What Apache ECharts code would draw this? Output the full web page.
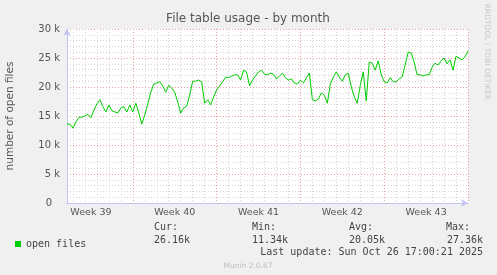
<!DOCTYPE html>
<html><head><meta charset="utf-8">
<script src="https://cdn.jsdelivr.net/npm/echarts@6.0.0/dist/echarts.min.js"></script>
<style>html,body{margin:0;padding:0;background:#f0f0f0;}#c{width:497px;height:275px;}</style>
</head><body><div id="c"></div>
<script>
// ---- data ----
const chartTitle = 'File table usage - by month';
const yAxisTitle = 'number of open files';
const seriesName = 'open files';
const startTime = Date.UTC(2025, 8, 23, 12, 0, 0); // first sample
const stepHours = 6;
const openFiles = [
  13600, 13600, 12900, 14000, 14800, 14800, 15000, 15300, 14700, 16000,
  17100, 17800, 16600, 15700, 16900, 15900, 15700, 15500, 16400, 16600,
  15700, 16900, 15700, 17200, 15500, 13600, 15200, 17100, 19100, 20500,
  20700, 20900, 20200, 19100, 20300, 19800, 19100, 17400, 15500, 16400,
  16700, 18600, 21000, 21000, 21200, 20900, 17200, 17800, 16900, 18300,
  19500, 20200, 20900, 21700, 21600, 21900, 22100, 22100, 21200, 22900,
  22600, 20200, 21200, 21900, 22600, 22900, 22200, 22100, 22400, 22200,
  21400, 21900, 22400, 21600, 21200, 21400, 20700, 20500, 21200, 20700,
  21600, 22400, 17800, 17600, 17900, 19000, 18600, 17200, 20500, 21700,
  22600, 21700, 21000, 22100, 22400, 20000, 18300, 17200, 20300, 22600,
  17600, 24300, 24100, 22900, 24500, 22100, 20900, 20700, 21600, 20900,
  20900, 21400, 21700, 23800, 26000, 25900, 24300, 22100, 22100, 21900,
  22100, 22100, 23400, 24100, 23800, 24500, 25000, 24000, 24700, 22900,
  25300, 25000, 24700, 25200, 26200
];
const yTicks = [0, 5000, 10000, 15000, 20000, 25000, 30000];
const weekLabels = ['Week 39', 'Week 40', 'Week 41', 'Week 42', 'Week 43'];
const statNames = ['Cur:', 'Min:', 'Avg:', 'Max:'];
const statValues = ['26.16k', '11.34k', '20.05k', '27.36k'];
const lastUpdate = 'Last update: Sun Oct 26 17:00:21 2025';
const footer = 'Munin 2.0.67';
const sideText = 'RRDTOOL / TOBI OETIKER';

// ---- build ----
const stepMs = stepHours * 3600 * 1000;
const times = openFiles.map((_, i) => startTime + i * stepMs);
const categories = times.map(t => new Date(t).toISOString());
function isMidnight(i) { return new Date(times[i]).getUTCHours() === 0; }
function isMonday(i) { const d = new Date(times[i]); return d.getUTCHours() === 0 && d.getUTCDay() === 1; }
function isMidWeek(i) { const d = new Date(times[i]); return d.getUTCHours() === 12 && d.getUTCDay() === 4; }
const midWeekIdx = times.map((_, i) => i).filter(isMidWeek);

const mono = '"DejaVu Sans Mono", monospace';
const sans = '"DejaVu Sans", sans-serif';
const statX = [154, 252, 349, 483];
const graphics = [
  { type: 'text', x: 248, y: 19, style: { text: chartTitle, font: '12px ' + sans, fill: '#555', align: 'center', verticalAlign: 'middle' } },
  { type: 'text', x: 10, y: 116, rotation: Math.PI / 2, style: { text: yAxisTitle, font: '10.5px ' + sans, fill: '#555', align: 'center', verticalAlign: 'middle' } },
  { type: 'text', x: 487, y: 52, rotation: -Math.PI / 2, style: { text: sideText, font: '7.5px ' + sans, fill: '#c8c8c8', align: 'center', verticalAlign: 'middle' } },
  { type: 'text', x: 483, y: 252, style: { text: lastUpdate, font: '10px ' + mono, fill: '#444', align: 'right', verticalAlign: 'middle' } },
  { type: 'text', x: 248, y: 266, style: { text: footer, font: '7.5px ' + sans, fill: '#c0c0c0', align: 'center', verticalAlign: 'middle' } }
];
statNames.forEach((n, k) => {
  const last = k === statNames.length - 1;
  graphics.push({ type: 'text', x: last ? 470 : statX[k], y: 227, style: { text: n, font: '10px ' + mono, fill: '#444', align: last ? 'right' : 'left', verticalAlign: 'middle' } });
  graphics.push({ type: 'text', x: statX[k], y: 240, style: { text: statValues[k], font: '10px ' + mono, fill: '#444', align: last ? 'right' : 'left', verticalAlign: 'middle' } });
});

const chart = echarts.init(document.getElementById('c'), null, { renderer: 'canvas' });
chart.setOption({
  animation: false,
  backgroundColor: '#f0f0f0',
  grid: { left: 67, right: 29, top: 29, bottom: 72, show: true, backgroundColor: '#ffffff', borderWidth: 0 },
  legend: {
    data: [seriesName], left: 10, top: 234, icon: 'rect', itemWidth: 6, itemHeight: 6, itemGap: 0,
    textStyle: { fontFamily: mono, fontSize: 10, color: '#444', padding: [0, 0, 0, 0] }
  },
  xAxis: [
    {
      type: 'category', data: categories, boundaryGap: false, position: 'bottom',
      axisLine: { show: true, lineStyle: { color: '#c4c4f4', width: 1 }, symbol: ['none', 'arrow'], symbolSize: [6, 7] },
      axisTick: { show: false },
      axisLabel: {
        interval: (i) => isMidWeek(i),
        formatter: (v, i) => weekLabels[midWeekIdx.indexOf(i)] || '',
        color: '#555', fontFamily: sans, fontSize: 9.5, margin: 5
      },
      splitLine: { show: true, interval: (i) => isMidnight(i) && !isMonday(i), lineStyle: { color: '#d4d4d4', type: [1, 2], width: 1 } }
    },
    {
      type: 'category', data: categories, boundaryGap: false, position: 'bottom',
      axisLine: { show: false }, axisTick: { show: false }, axisLabel: { show: false },
      splitLine: { show: true, interval: (i) => isMonday(i), lineStyle: { color: '#eca0a0', type: [1, 2], width: 1 } }
    }
  ],
  yAxis: {
    type: 'value', min: yTicks[0], max: yTicks[yTicks.length - 1], interval: yTicks[1] - yTicks[0],
    axisLine: { show: true, lineStyle: { color: '#c4c4f4', width: 1 }, symbol: ['none', 'arrow'], symbolSize: [6, 7] },
    axisTick: { show: false },
    minorTick: { show: false, splitNumber: 5 },
    minorSplitLine: { show: true, lineStyle: { color: '#d4d4d4', type: [1, 2], width: 1 } },
    axisLabel: {
      formatter: (v) => v === 0 ? '{z|0}' : (v / 1000) + ' k',
      rich: { z: { padding: [0, 8, 0, 0], color: '#555', fontFamily: sans, fontSize: 10 } },
      color: '#555', fontFamily: sans, fontSize: 10, margin: 7
    },
    splitLine: { show: true, lineStyle: { color: '#eca0a0', type: [1, 2], width: 1 } }
  },
  series: [{
    name: seriesName, type: 'line', data: openFiles, xAxisIndex: 0,
    showSymbol: false, symbol: 'none',
    lineStyle: { color: '#00cc00', width: 1 }, itemStyle: { color: '#00cc00' }
  }],
  graphic: graphics
});
</script></body></html>
